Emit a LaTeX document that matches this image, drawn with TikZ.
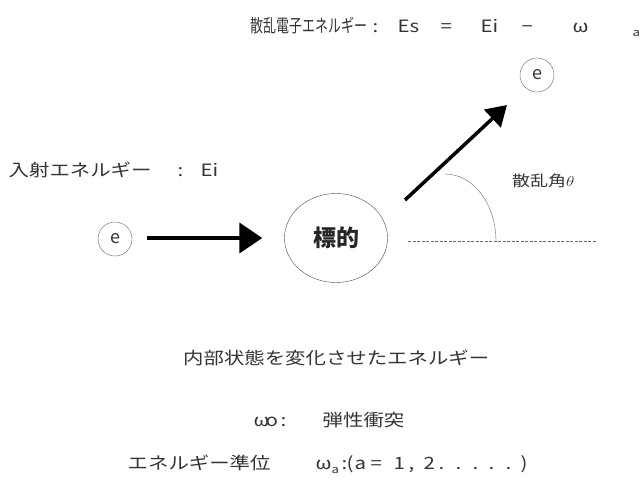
\documentclass[tikz,border=0pt]{standalone}
\usepackage{fontspec}
\usepackage{graphicx}
\setmainfont{Noto Sans CJK JP}
\usetikzlibrary{arrows.meta,shapes.geometric}
\newcommand\pc[2]{\makebox[0pt][l]{\hspace*{#1}#2}}
\newcommand\sx[1]{\scalebox{1.2}[1]{#1}}
\newcommand\sn[1]{\scalebox{0.72}[1]{#1}}
\newcommand\sa{\raisebox{-4pt}{\fontsize{11}{11}\selectfont a}}
\begin{document}
\begin{tikzpicture}[x=1pt,y=-1pt,
  lbl/.style={anchor=base west,inner sep=0pt,text=black!80,font=\fontsize{17}{17}\selectfont},
  ecirc/.style={circle,draw=black!60,thin,minimum size=34pt,inner sep=0pt,text=black!80,font=\fontsize{18}{18}\selectfont},
  tgtbox/.style={ellipse,draw=black!70,thin,minimum width=103pt,minimum height=89pt,inner sep=0pt,text=black!85,font=\fontsize{23}{23}\selectfont\bfseries},
  bigarrow/.style={line width=4pt,-{Triangle[length=23pt,width=30pt]}},
  diagarrow/.style={line width=3.5pt,-{Triangle[length=20pt,width=24pt]}},
  guide/.style={black!60,thin,dash pattern=on 3pt off 1.5pt},
  anglearc/.style={black!60,thin}]
\useasboundingbox (0,0) rectangle (643,483);
\fill[white] (0,0) rectangle (643,483);

% top label
\node[lbl] (toplbl) at (250,32) {%
  \pc{0pt}{\sn{\fontsize{18}{18}\selectfont 散乱電子エネルギー}}%
  \pc{122pt}{\sx{:}}%
  \pc{147pt}{\sx{Es}}%
  \pc{190pt}{\sx{=}}%
  \pc{230pt}{\sx{Ei}}%
  \pc{271pt}{\sx{−}}%
  \pc{322pt}{\sx{ω}}%
  \pc{382pt}{\sx{\sa}}};

% incident label
\node[lbl] (inlbl) at (8,176) {%
  \pc{0pt}{\sx{入射エネルギー}}%
  \pc{169pt}{\sx{:}}%
  \pc{192pt}{\sx{Ei}}};

% nodes
\node[ecirc] (e1) at (115,239) {e};
\node[ecirc] (e2) at (537,75) {e};
\node[tgtbox] (tgt) at (336,238) {標的};

% arrows
\draw[bigarrow] ([xshift=15pt]e1.east |- tgt.center) -- ([xshift=-22pt]tgt.west);
\coordinate (ds) at (405,200);
\coordinate (de) at (507,105);
\draw[diagarrow] (ds) -- (de);

% reference line and angle
\coordinate (gl) at (408,241);
\coordinate (gr) at (597,241);
\draw[guide] (gl) -- (gr);
\coordinate (arcstart) at (445,174);
\draw[anglearc] (arcstart) arc[start angle=-90,end angle=0,x radius=51,y radius=67];
\node[lbl,font=\fontsize{15}{15}\selectfont] (anglbl) at (512,186) {\sx{散乱角$\theta$}};

% bottom labels
\node[lbl] (b1) at (183,364) {\sx{内部状態を変化させたエネルギー}};
\node[lbl] (b2) at (253,426) {%
  \pc{0pt}{\sx{ω}}%
  \pc{12pt}{\sx{o}}%
  \pc{27pt}{\sx{:}}%
  \pc{69pt}{\sx{弾性衝突}}};
\node[lbl] (b3) at (127,469) {%
  \pc{0pt}{\sx{エネルギー準位}}%
  \pc{188pt}{\sx{ω}}%
  \pc{204pt}{\sx{\sa}}%
  \pc{214pt}{\sx{:}}%
  \pc{219pt}{\sx{(}}%
  \pc{227pt}{\sx{a}}%
  \pc{243pt}{\sx{=}}%
  \pc{266pt}{\sx{1}}%
  \pc{281pt}{\sx{,}}%
  \pc{296pt}{\sx{2}}%
  \pc{311pt}{\sx{.}}%
  \pc{328pt}{\sx{.}}%
  \pc{345pt}{\sx{.}}%
  \pc{361pt}{\sx{.}}%
  \pc{378pt}{\sx{.}}%
  \pc{393pt}{\sx{)}}};
\end{tikzpicture}
\end{document}
